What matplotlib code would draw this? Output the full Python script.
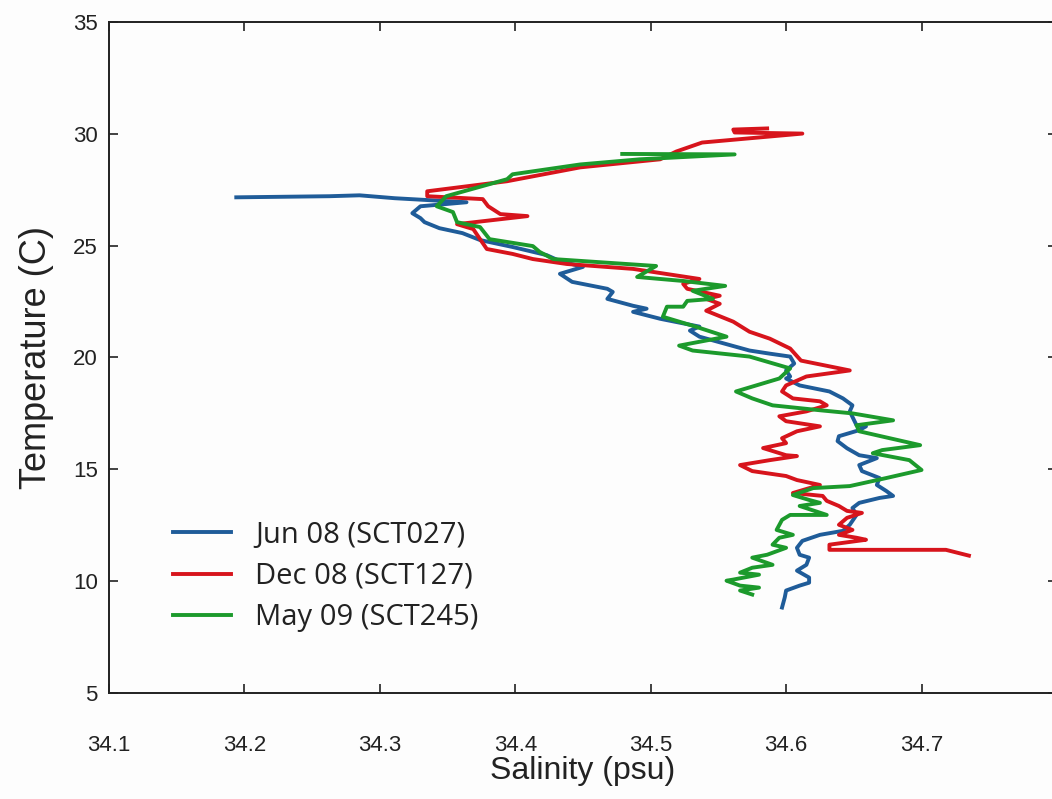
import matplotlib.pyplot as plt

# T-S profiles from three SCT casts
jun08_sal = [34.194, 34.263, 34.285, 34.311, 34.364, 34.330, 34.324, 34.330, 34.333, 34.344,
             34.361, 34.374, 34.398, 34.423, 34.433, 34.450, 34.433, 34.442, 34.468, 34.472,
             34.468, 34.487, 34.497, 34.487, 34.507, 34.536, 34.529, 34.536, 34.573, 34.588,
             34.603, 34.606, 34.600, 34.603, 34.600, 34.610, 34.632, 34.642, 34.649, 34.647,
             34.652, 34.659, 34.654, 34.639, 34.638, 34.645, 34.654, 34.667, 34.654, 34.656,
             34.669, 34.667, 34.674, 34.679, 34.669, 34.654, 34.649, 34.652, 34.647, 34.642,
             34.625, 34.612, 34.608, 34.610, 34.617, 34.615, 34.608, 34.617, 34.617, 34.610,
             34.600, 34.599, 34.597]
jun08_temp = [27.16, 27.21, 27.25, 27.12, 26.94, 26.76, 26.45, 26.23, 26.05, 25.78,
              25.56, 25.25, 24.94, 24.58, 24.31, 24.05, 23.74, 23.38, 23.07, 22.93,
              22.62, 22.31, 22.18, 22.04, 21.73, 21.38, 21.20, 20.93, 20.31, 20.17,
              20.04, 19.73, 19.42, 19.15, 19.06, 18.75, 18.48, 18.17, 17.86, 17.59,
              16.97, 16.92, 16.75, 16.48, 16.26, 15.94, 15.63, 15.50, 15.19, 14.92,
              14.61, 14.30, 14.03, 13.81, 13.72, 13.50, 13.27, 12.96, 12.52, 12.25,
              12.07, 11.80, 11.49, 11.18, 11.05, 10.73, 10.47, 10.16, 9.93, 9.80,
              9.58, 9.27, 8.82]

dec08_sal = [34.586, 34.561, 34.562, 34.612, 34.538, 34.519, 34.507, 34.448, 34.394, 34.335,
             34.335, 34.376, 34.380, 34.389, 34.409, 34.357, 34.369, 34.374, 34.379, 34.398,
             34.413, 34.438, 34.487, 34.536, 34.524, 34.527, 34.551, 34.541, 34.551, 34.541,
             34.561, 34.573, 34.588, 34.603, 34.611, 34.647, 34.615, 34.600, 34.597, 34.605,
             34.625, 34.630, 34.615, 34.595, 34.600, 34.625, 34.608, 34.597, 34.600, 34.583,
             34.600, 34.608, 34.588, 34.566, 34.575, 34.600, 34.608, 34.625, 34.605, 34.627,
             34.630, 34.639, 34.645, 34.656, 34.645, 34.639, 34.649, 34.639, 34.652, 34.659,
             34.632, 34.632, 34.718, 34.735]
dec08_temp = [30.24, 30.19, 30.06, 30.01, 29.61, 29.21, 28.86, 28.50, 27.88, 27.43,
              27.21, 27.08, 26.76, 26.41, 26.32, 25.96, 25.74, 25.29, 24.85, 24.63,
              24.40, 24.18, 23.96, 23.51, 23.29, 23.07, 22.76, 22.62, 22.40, 22.09,
              21.60, 21.15, 20.84, 20.40, 19.86, 19.42, 19.15, 18.75, 18.48, 18.17,
              18.04, 17.86, 17.59, 17.37, 17.15, 16.92, 16.70, 16.39, 16.17, 15.95,
              15.63, 15.59, 15.41, 15.19, 14.92, 14.70, 14.52, 14.30, 13.94, 13.81,
              13.59, 13.36, 13.14, 13.05, 12.83, 12.52, 12.29, 12.07, 11.94, 11.85,
              11.63, 11.40, 11.40, 11.14]

may09_sal = [34.479, 34.562, 34.492, 34.448, 34.398, 34.394, 34.349, 34.342, 34.354, 34.357,
             34.374, 34.381, 34.413, 34.418, 34.428, 34.504, 34.490, 34.524, 34.555, 34.531,
             34.546, 34.527, 34.524, 34.512, 34.509, 34.531, 34.556, 34.521, 34.531, 34.573,
             34.603, 34.595, 34.563, 34.575, 34.590, 34.625, 34.649, 34.679, 34.652, 34.654,
             34.699, 34.671, 34.664, 34.691, 34.700, 34.674, 34.647, 34.620, 34.605, 34.617,
             34.625, 34.610, 34.630, 34.603, 34.597, 34.593, 34.605, 34.595, 34.590, 34.600,
             34.586, 34.575, 34.590, 34.575, 34.566, 34.580, 34.561, 34.556, 34.566, 34.580,
             34.566, 34.575]
may09_temp = [29.10, 29.08, 28.86, 28.63, 28.19, 27.97, 27.21, 26.76, 26.50, 26.05,
              25.83, 25.29, 24.98, 24.72, 24.40, 24.09, 23.60, 23.42, 23.20, 22.98,
              22.62, 22.53, 22.27, 22.27, 21.82, 21.42, 20.93, 20.53, 20.31, 20.04,
              19.51, 19.06, 18.48, 18.17, 17.86, 17.64, 17.50, 17.19, 16.97, 16.70,
              16.08, 15.86, 15.72, 15.41, 14.97, 14.61, 14.25, 14.16, 13.85, 13.63,
              13.50, 13.36, 12.96, 12.96, 12.74, 12.29, 12.07, 11.94, 11.63, 11.49,
              11.18, 11.05, 10.73, 10.60, 10.38, 10.29, 10.07, 10.02, 9.80, 9.71,
              9.58, 9.40]

labels = ["Jun 08 (SCT027)", "Dec 08 (SCT127)", "May 09 (SCT245)"]
colors = ["#1f5c99", "#d7141c", "#1c9a2c"]

x_ticks = [34.1, 34.2, 34.3, 34.4, 34.5, 34.6, 34.7]
y_ticks = [5, 10, 15, 20, 25, 30, 35]

plt.rcParams['font.family'] = ['Liberation Sans', 'DejaVu Sans']

fig = plt.figure(figsize=(10.52, 7.99), dpi=100, facecolor="#fdfdfd")
# right spine sits just past the right edge of the figure
ax = fig.add_axes([0.1036, 0.1327, 0.9011, 0.8398], facecolor="#fdfdfd")

for sal, temp, lab, c in zip([jun08_sal, dec08_sal, may09_sal],
                             [jun08_temp, dec08_temp, may09_temp], labels, colors):
    ax.plot(sal, temp, color=c, lw=2.8, label=lab, solid_joinstyle="round")

ax.set_xlim(34.1, 34.8)
ax.set_ylim(5, 35)
ax.set_xticks(x_ticks)
ax.set_yticks(y_ticks)
ax.set_xticklabels([f"{v:.1f}" for v in x_ticks])
ax.tick_params(direction="in", length=6.5, width=1.2, top=True, right=True,
               labelsize=16, colors="#222222")
ax.tick_params(axis="x", pad=30)
ax.tick_params(axis="y", pad=8)
for s in ax.spines.values():
    s.set_linewidth(1.4)
    s.set_color("#222222")

ax.set_xlabel("Salinity (psu)", fontsize=23, labelpad=0, color="#222222")
ax.set_ylabel("Temperature (C)", fontsize=26, labelpad=14, color="#222222")

leg = ax.legend(loc="upper left", bbox_to_anchor=(0.04, 0.296), frameon=False,
                handlelength=2.0, handletextpad=0.8, labelspacing=0.42,
                prop={"family": "Open Sans", "size": 21})
for t in leg.get_texts():
    t.set_color("#222222")

fig.savefig("out.png", dpi=100, facecolor=fig.get_facecolor())
